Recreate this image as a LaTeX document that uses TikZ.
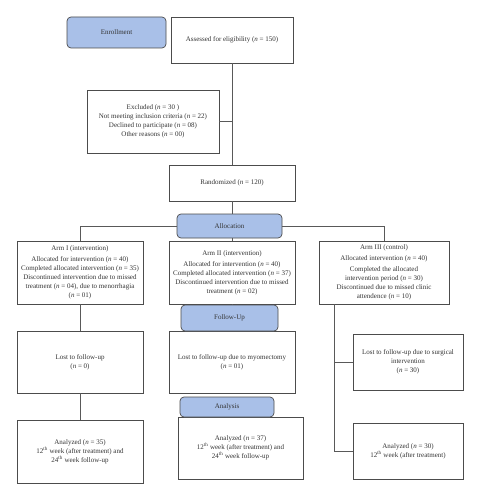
\documentclass[tikz,border=0pt]{standalone}
\usepackage{fontspec}
\setmainfont{Liberation Serif}
\begin{document}
\begin{tikzpicture}[x=1pt,y=-1pt,
  every node/.style={font=\fontsize{7}{9}\selectfont, text=black!80, align=center, inner sep=1pt},
  box/.style={draw=black!70, line width=0.7pt, fill=white, minimum width=#1},
  phase/.style={draw=black!70, line width=0.7pt, fill=phaseblue, rounded corners=4pt, minimum width=#1},
  conn/.style={draw=black!65, line width=0.9pt}]
\definecolor{phaseblue}{RGB}{169,192,232}
\fill[white] (0,0) rectangle (481,500);
\useasboundingbox (0,0) rectangle (481,500);
% nodes
\node[phase=99, minimum height=31] (enroll) at (116.5,32.5) {Enrollment};
\node[box=122, minimum height=46] (assess) at (232,40) {Assessed for eligibility (\textit{n} = 150)};
\node[box=132, minimum height=63] (excl) at (153,121.5) {Excluded (\textit{n} = 30 )\\Not meeting inclusion criteria (\textit{n} = 22)\\Declined to participate (\textit{n} = 08)\\Other reasons (\textit{n} = 00)};
\node[box=126, minimum height=36] (rand) at (232,183) {Randomized (\textit{n} = 120)};
\node[phase=105, minimum height=24] (alloc) at (229.5,226) {Allocation};
\node[box=126, minimum height=63] (arm1) at (80,272.5) {Arm I (intervention)\\[2pt]Allocated for intervention (\textit{n} = 40)\\Completed allocated intervention (\textit{n} = 35)\\Discontinued intervention due to missed\\treatment (\textit{n} = 04), due to menorrhagia\\(\textit{n} = 01)};
\node[box=126, minimum height=63] (arm2) at (232,272.5) {Arm II (intervention)\\[2pt]Allocated for intervention (\textit{n} = 40)\\Completed allocated intervention (\textit{n} = 37)\\Discontinued intervention due to missed\\treatment (\textit{n} = 02)};
\node[box=130, minimum height=63] (arm3) at (384,272.5) {Arm III (control)\\[2pt]Allocated intervention (\textit{n} = 40)\\[2pt]Completed the allocated\\intervention period (\textit{n} = 30)\\Discontinued due to missed clinic\\attendence (\textit{n} = 10)};
\node[box=126, minimum height=62] (lost1) at (80,362) {Lost to follow-up\\(\textit{n} = 0)};
\node[box=126, minimum height=62] (lost2) at (232,362) {Lost to follow-up due to myomectomy\\(\textit{n} = 01)};
\node[phase=97, minimum height=26] (follow) at (229.5,318) {Follow-Up};
\node[box=110, minimum height=56] (lost3) at (408,362) {Lost to follow-up due to surgical\\intervention\\(\textit{n} = 30)};
\node[box=126, minimum height=63] (an1) at (80,451.5) {Analyzed (\textit{n} = 35)\\12\textsuperscript{th} week (after treatment) and\\24\textsuperscript{th} week follow-up};
\node[box=125, minimum height=62] (an2) at (240.5,448) {Analyzed (\textit{n} = 37)\\12\textsuperscript{th} week (after treatment) and\\24\textsuperscript{th} week follow-up};
\node[phase=94, minimum height=20] (analysis) at (227,407) {Analysis};
\node[box=110, minimum height=56] (an3) at (408,451) {Analyzed (\textit{n} = 30)\\12\textsuperscript{th} week (after treatment)};
\coordinate (a3) at (334,304);
% connectors
\path[conn] (assess.south) -- (rand.north);
\path[conn] (excl.east) -- (excl.east -| assess.south);
\path[conn] (rand.south) -- (rand.south |- alloc.north);
\path[conn] (alloc.west) -| (arm1.north);
\path[conn] (alloc.east) -| (arm3.north);
\path[conn] (alloc.south -| arm2.north) -- (arm2.north);
\path[conn] (arm2.south) -- (arm2.south |- follow.north);
\path[conn] (arm1.south) -- (lost1.north);
\path[conn] (lost1.south) -- (an1.north);
\path[conn] (a3) |- (lost3.west);
\path[conn] (a3) |- (an3.west);
\end{tikzpicture}
\end{document}
